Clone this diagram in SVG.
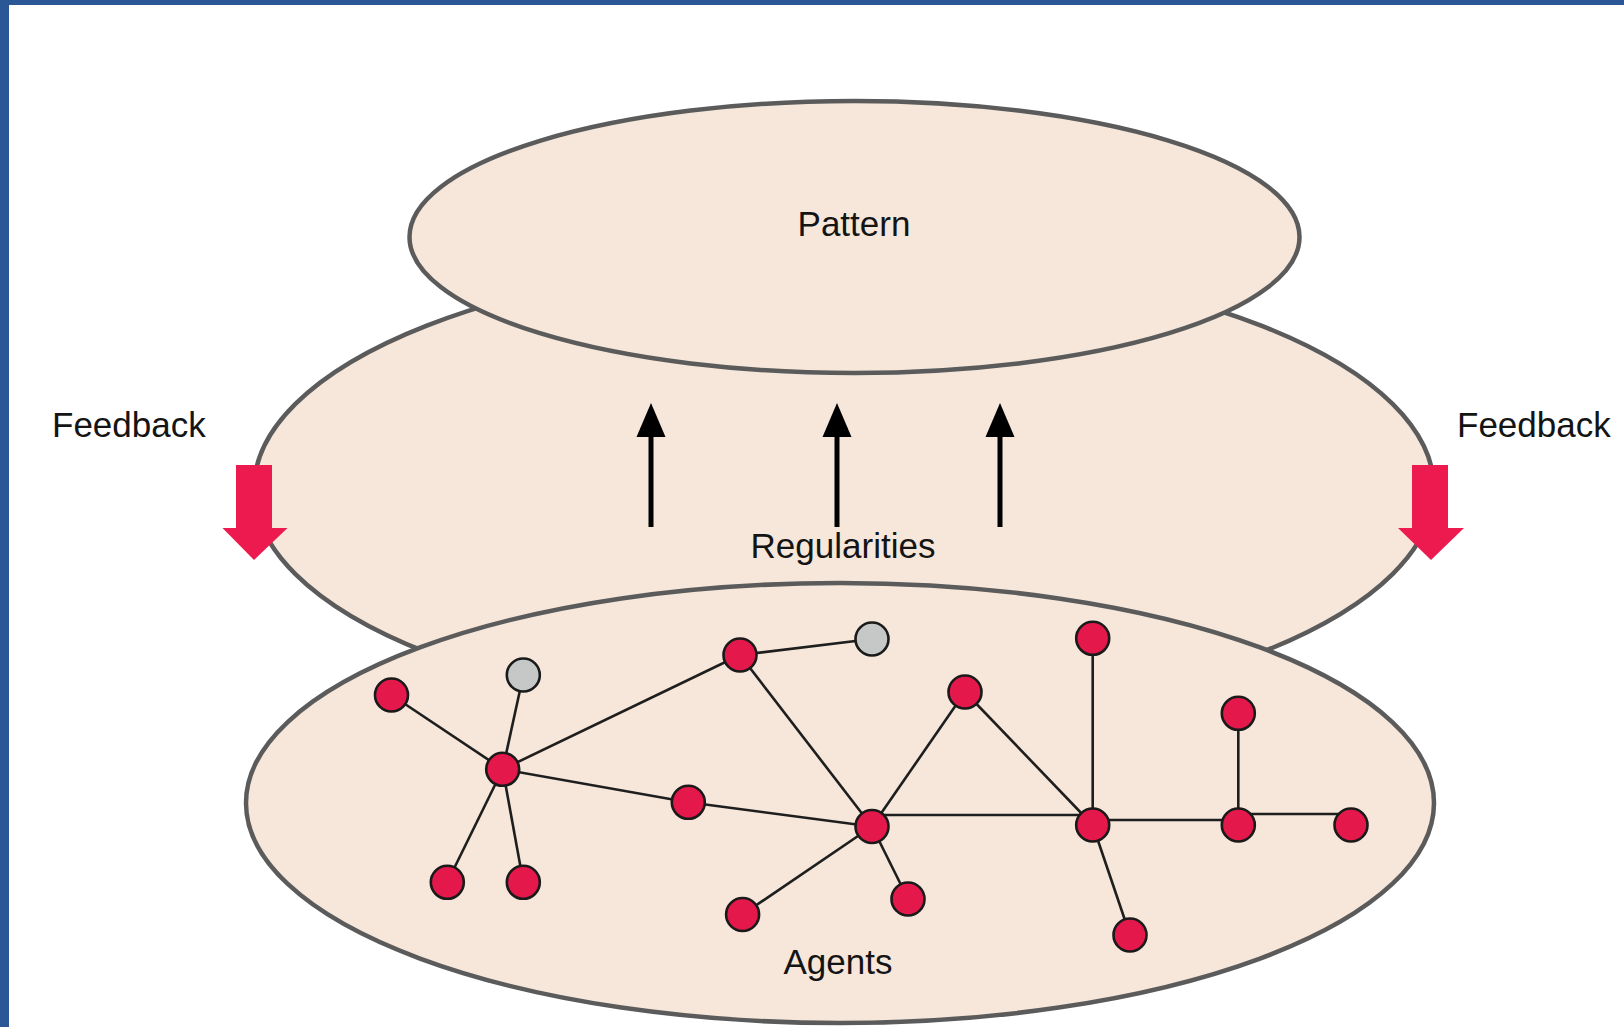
<svg xmlns="http://www.w3.org/2000/svg" width="1624" height="1027" viewBox="0 0 1624 1027">
  <defs>
    <style>
      .layer { fill: #f6e7da; stroke: #5b5b5b; stroke-width: 4.5; }
      .label { font-family: "Liberation Sans", Arial, sans-serif; font-size: 35px; fill: #141414; }
      .mid { text-anchor: middle; }
      .edge { stroke: #1e1e1e; stroke-width: 2.6; fill: none; }
      .agent { fill: #e5184b; stroke: #1a1a1a; stroke-width: 2.6; }
      .idle { fill: #c6c8c8; stroke: #1a1a1a; stroke-width: 2.6; }
      .up { stroke: #000; stroke-width: 5; }
      .fb { fill: #ec1a4f; }
    </style>
  </defs>

  <rect x="0" y="0" width="1624" height="1027" fill="#ffffff"/>
  <!-- frame -->
  <rect x="0" y="0" width="1624" height="5" fill="#2c5797"/>
  <rect x="0" y="0" width="9" height="1027" fill="#2c5797"/>

  <!-- layers -->
  <g id="regularities">
    <ellipse class="layer" cx="844" cy="489" rx="590" ry="231"/>
  </g>
  <g id="pattern">
    <ellipse class="layer" cx="854.5" cy="237" rx="445" ry="136"/>
    <text class="label mid" x="854" y="236">Pattern</text>
  </g>
  <g id="agents">
    <ellipse class="layer" cx="840" cy="803" rx="594" ry="220"/>
    <text class="label mid" x="838" y="974">Agents</text>
  </g>
  <text class="label mid" x="843" y="558">Regularities</text>

  <!-- upward emergence arrows -->
  <g id="emergence">
    <line class="up" x1="651" y1="527" x2="651" y2="432"/>
    <polygon points="636.5,437 665.5,437 651,403"/>
    <line class="up" x1="837" y1="527" x2="837" y2="432"/>
    <polygon points="822.5,437 851.5,437 837,403"/>
    <line class="up" x1="1000" y1="527" x2="1000" y2="432"/>
    <polygon points="985.5,437 1014.5,437 1000,403"/>
  </g>

  <!-- feedback arrows -->
  <g id="feedback-left">
    <text class="label" x="52" y="437">Feedback</text>
    <polygon class="fb" points="236,465 272,465 272,528 287.5,528 254,560 222.5,528 236,528"/>
  </g>
  <g id="feedback-right">
    <text class="label" x="1457" y="437">Feedback</text>
    <polygon class="fb" points="1412,465 1448,465 1448,528 1464,528 1431,560 1398,528 1412,528"/>
  </g>

  <!-- connectors between agents -->
  <g id="connectors">
    <line class="edge" x1="391.5" y1="695" x2="502.7" y2="769.3"/>
    <line class="edge" x1="523.3" y1="675" x2="502.7" y2="769.3"/>
    <line class="edge" x1="502.7" y1="769.3" x2="447.3" y2="882.3"/>
    <line class="edge" x1="502.7" y1="769.3" x2="523.3" y2="882.3"/>
    <line class="edge" x1="502.7" y1="769.3" x2="740" y2="655"/>
    <line class="edge" x1="502.7" y1="769.3" x2="688.3" y2="802.3"/>
    <line class="edge" x1="688.3" y1="802.3" x2="872" y2="826.5"/>
    <line class="edge" x1="740" y1="655" x2="872" y2="639"/>
    <line class="edge" x1="740" y1="655" x2="872" y2="826.5"/>
    <line class="edge" x1="872" y1="826.5" x2="965" y2="692"/>
    <line class="edge" x1="872" y1="826.5" x2="742.6" y2="914.5"/>
    <line class="edge" x1="872" y1="826.5" x2="908" y2="899"/>
    <line class="edge" x1="965" y1="692" x2="1092.7" y2="825"/>
    <line class="edge" x1="872" y1="815" x2="1092.7" y2="815"/>
    <line class="edge" x1="1092.7" y1="638.3" x2="1092.7" y2="825"/>
    <line class="edge" x1="1092.7" y1="825" x2="1130" y2="935"/>
    <line class="edge" x1="1092.7" y1="820" x2="1238.3" y2="820"/>
    <line class="edge" x1="1238.3" y1="713.3" x2="1238.3" y2="825"/>
    <line class="edge" x1="1238.3" y1="814" x2="1351" y2="814"/>
  </g>

  <!-- agents -->
  <g id="n-a"><circle class="agent" cx="391.5" cy="695" r="16.5"/></g>
  <g id="n-b"><circle class="idle" cx="523.3" cy="675" r="16.5"/></g>
  <g id="n-c"><circle class="agent" cx="502.7" cy="769.3" r="16.5"/></g>
  <g id="n-d"><circle class="agent" cx="447.3" cy="882.3" r="16.5"/></g>
  <g id="n-e"><circle class="agent" cx="523.3" cy="882.3" r="16.5"/></g>
  <g id="n-f"><circle class="agent" cx="688.3" cy="802.3" r="16.5"/></g>
  <g id="n-g"><circle class="agent" cx="740" cy="655" r="16.5"/></g>
  <g id="n-h"><circle class="idle" cx="872" cy="639" r="16.5"/></g>
  <g id="n-i"><circle class="agent" cx="872" cy="826.5" r="16.5"/></g>
  <g id="n-j"><circle class="agent" cx="965" cy="692" r="16.5"/></g>
  <g id="n-k"><circle class="agent" cx="742.6" cy="914.5" r="16.5"/></g>
  <g id="n-l"><circle class="agent" cx="908" cy="899" r="16.5"/></g>
  <g id="n-m"><circle class="agent" cx="1092.7" cy="638.3" r="16.5"/></g>
  <g id="n-n"><circle class="agent" cx="1092.7" cy="825" r="16.5"/></g>
  <g id="n-o"><circle class="agent" cx="1130" cy="935" r="16.5"/></g>
  <g id="n-p"><circle class="agent" cx="1238.3" cy="713.3" r="16.5"/></g>
  <g id="n-q"><circle class="agent" cx="1238.3" cy="825" r="16.5"/></g>
  <g id="n-r"><circle class="agent" cx="1351" cy="825" r="16.5"/></g>
</svg>
